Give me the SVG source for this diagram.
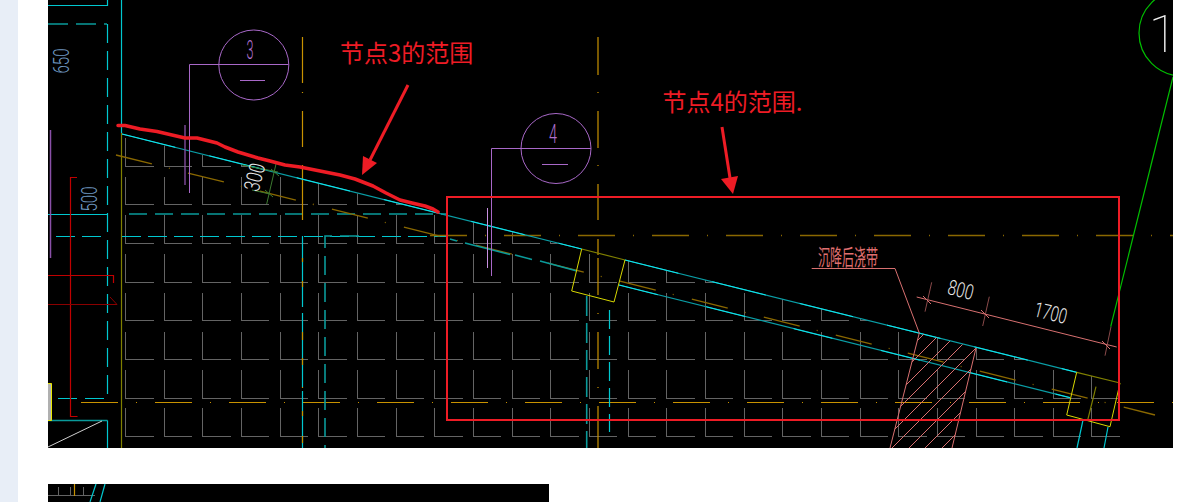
<svg xmlns="http://www.w3.org/2000/svg" width="1187" height="502" viewBox="0 0 1187 502">
<style>
.g{stroke:#646464;fill:none;stroke-width:1;shape-rendering:crispEdges}
.cy{stroke:#00c8d0;fill:none;stroke-width:1.200}
.te{stroke:#0a9a9a;fill:none;stroke-width:1.6}
.or{stroke:#c89200;fill:none;stroke-width:1.200}
.od{stroke:#8a6800;fill:none;stroke-width:1.300}
.pu{stroke:#a868c8;fill:none;stroke-width:1}
.pl{stroke:#c890e0;fill:none;stroke-width:1}
.ye{stroke:#d8d800;fill:none;stroke-width:1}
.ol{stroke:#808000;fill:none;stroke-width:1.200}
.rd{stroke:#c00000;fill:none;stroke-width:1.200}
.pk{stroke:#d87070;fill:none;stroke-width:1}
.pd{stroke:#8a4a4a;fill:none;stroke-width:1}
.gr{stroke:#00c000;fill:none;stroke-width:1.200}
.ann{stroke:#ee1c25;fill:none}
.lbl{fill:#ee1c25;font-family:"Noto Sans CJK SC","Noto Sans",sans-serif;font-size:24px}
.num{font-family:Roboto,"Liberation Sans",sans-serif;font-weight:300;text-anchor:middle}
</style>
<defs>
<path id="row" d="M125.5 0v28h28m10.66-28v28h28m10.66-28v28h28m10.66-28v28h28m10.66-28v28h28m10.66-28v28h28m10.66-28v28h28m10.66-28v28h28m10.66-28v28h28m10.66-28v28h28m10.66-28v28h28m10.66-28v28h28m10.66-28v28h28m10.66-28v28h28m10.66-28v28h28m10.66-28v28h28m10.66-28v28h28m10.66-28v28h28m10.66-28v28h28m10.66-28v28h28m10.66-28v28h28m10.66-28v28h28m10.66-28v28h28m10.66-28v28h28m10.66-28v28h28m10.66-28v28h28"/>
<clipPath id="under"><polygon points="122,135 1120,383 1173,396 1173,448 122,448"/></clipPath>
<clipPath id="band"><polygon points="919.3,333 976,348 952,448 890,448"/></clipPath>
<clipPath id="sheet"><rect x="48" y="0" width="1125" height="448"/></clipPath>
</defs>

<rect width="1187" height="502" fill="#fff"/>
<rect id="side" width="18" height="502" fill="#e8eef7"/>
<rect id="sheet-main" x="48" width="1125" height="448" fill="#000"/>
<rect id="sheet-next" x="48" y="484" width="501" height="18" fill="#000"/>

<g id="grid" class="g" clip-path="url(#under)">
<use href="#row" y="138"/><use href="#row" y="176.700"/><use href="#row" y="215"/><use href="#row" y="254"/><use href="#row" y="292.700"/><use href="#row" y="331.700"/><use href="#row" y="370"/><use href="#row" y="408"/>
</g>

<g id="left-frame">
<path class="cy" d="M48 5.500H107.500V0"/>
<path class="te" d="M48 24H107" stroke-dasharray="20 8"/>
<path class="cy" d="M107.500 24V398.500H48" stroke-dasharray="19 8"/>
<path class="cy" d="M48 214.500H107.500"/>
<path class="te" d="M129 214H446" stroke-dasharray="18 8"/>
<path class="cy" d="M56 236.500H107M122 236.500H446" stroke-dasharray="19 7"/>
<path class="te" d="M48 420.500H107.500"/>
<path class="cy" d="M107.500 420.500V448"/>
<path d="M48 447L102 421" stroke="#d0d0d0" fill="none"/>
<path class="cy" d="M121.500 0V133"/>
<path class="ol" d="M121.500 133V448"/>
<path class="rd" d="M77 177.500H70.500V416.500H77.500"/>
<path class="rd" d="M48 275.500H113.500V283"/>
<path d="M48 304.500H117L110 297" stroke="#8a0000" fill="none"/>
<path d="M50.500 130V258" stroke="#8a50a8" stroke-width="1.500" fill="none"/>
<path d="M48 383.500H51.500V420.500H48" stroke="#e8e800" fill="#b0b0b0"/>
<text class="num" transform="translate(68.500 61) rotate(-90)" font-size="22" textLength="25" lengthAdjust="spacingAndGlyphs" fill="#6f98c0">650</text>
<text class="num" transform="translate(97 199) rotate(-90)" font-size="22" textLength="25" lengthAdjust="spacingAndGlyphs" fill="#6f98c0">500</text>
</g>

<g id="axes">
<path class="od" d="M430 235.500H1173" stroke-dasharray="37 18 1 18"/>
<path class="or" d="M81 402.500H1173" stroke-dasharray="37 18 1 18"/>
<path class="or" d="M302.500 37V83M302.500 92v1M302.500 111V147M302.500 165V220"/>
<path class="cy" d="M302.500 236V307M302.500 313V387M302.500 391V448"/>
<path class="or" d="M302.500 258v4M302.500 281v6M302.500 332v8M302.500 358v7M302.500 387v1M302.500 411v5M302.500 436v7"/>
<path class="te" d="M359 236H325V448" stroke-dasharray="19 8"/>
<path class="or" d="M598 37V75M598 92v1M598 111V148M598 165v1M598 184V220M598 239V255M598 275v1M598 258V295M598 313v1M598 332V369M598 387v1M598 406V448"/>
<path class="te" d="M586.700 296V448" stroke-dasharray="20 7"/>
<path class="cy" d="M609.500 310V432" stroke-dasharray="19 7"/>
<path class="od" d="M116 155L1155 415" stroke-dasharray="37 17.500 1 18.700"/>
</g>

<g id="slope">
<path d="M122 134L581.700 249M625 260L1076.700 372.300" stroke="#0a9ea6" stroke-width="1.200" fill="none"/>
<path d="M122 134L581.700 249M625 260L1076.700 372.300" stroke="#10e8f0" stroke-width="1" fill="none" stroke-dasharray="55 35"/>
<path class="te" d="M450 239L457 241M465 243L510 254.500M515 255L532 259.500M540 261L577 271" stroke-width="1.200"/>
<path d="M619 285L1070 397.700" stroke="#0a9ea6" stroke-width="1.200" fill="none"/>
<path d="M619 285L1070 397.700" stroke="#10e8f0" fill="none" stroke-dasharray="40 50"/>
</g>

<g id="joint-a">
<path class="ol" d="M581.700 249L625 260"/>
<path class="ye" d="M625 260L614 302L571.700 291L581.700 249"/>
</g>
<g id="joint-b">
<path class="ol" d="M1076.700 372.300L1120 383"/>
<path class="ye" d="M1120 383L1110 426.700L1066.700 415L1076.700 372.300"/>
<path class="ol" d="M1096 386.700L1087.700 420"/>
<path class="cy" d="M1083 420L1077 448M1108 427L1104 448"/>
</g>

<g id="callout-3">
<circle class="pu" cx="253.800" cy="65" r="35"/>
<path class="pu" d="M189.500 64.500H288.500M189.500 64.500V193M240 80.500H265"/>
<path d="M185 125V185" stroke="#8a50a8" stroke-width="1.300" fill="none"/>
<text class="num" x="250" y="59" font-size="26" textLength="7" lengthAdjust="spacingAndGlyphs" fill="#b070d0">3</text>
</g>
<g id="callout-4">
<circle class="pu" cx="556" cy="148.500" r="35"/>
<path class="pu" d="M491.500 148.500H591M491.500 148.500V276M542 164.500H568"/>
<path class="pl" d="M487.500 208V268"/>
<text class="num" x="553" y="143" font-size="26" textLength="8" lengthAdjust="spacingAndGlyphs" fill="#b070d0">4</text>
</g>

<g id="dim-300">
<path d="M242 165L278 172M252 190L270 194M276 164L266.700 204M271 169L279 176M265 190L273 197" stroke="#3c7a30" fill="none"/>
<text class="num" transform="translate(262 179) rotate(-76)" font-size="22" textLength="28" lengthAdjust="spacingAndGlyphs" fill="#e8e8e8">300</text>
</g>

<g id="post-cast-strip">
<path class="pk" d="M919.300 333L890 448M976 348L952 448"/>
<g clip-path="url(#band)">
<path class="pk" d="M938 320L798 460M954 320L814 460M971 320L831 460M987 320L847 460M1004 320L864 460M1020 320L880 460M1037 320L897 460M1053 320L913 460M1070 320L930 460"/>
</g>
<path class="pk" d="M811.700 268.500H895L919.300 333"/>
<text x="818" y="265" font-size="22" textLength="60" lengthAdjust="spacingAndGlyphs" fill="#e07070" font-family="'Noto Sans CJK SC',sans-serif">沉降后浇带</text>
</g>

<g id="dims">
<path class="pk" d="M916.700 297L1116.700 347"/>
<path class="pd" d="M931.700 282.300L925 311.700M989.300 296.700L982.700 326M1111 326.700L1105 355.700"/>
<path class="pk" d="M923 296L931 304M981 310L989 318M1102 341L1110 349"/>
<text class="num" transform="translate(959 297) rotate(14)" font-size="21" textLength="26" lengthAdjust="spacingAndGlyphs" fill="#e8e8e8">800</text>
<text class="num" transform="translate(1049 320) rotate(14)" font-size="21" textLength="33" lengthAdjust="spacingAndGlyphs" fill="#e8e8e8">1700</text>
</g>

<g id="callout-1" clip-path="url(#sheet)">
<circle class="gr" cx="1182" cy="33" r="43"/>
<path class="gr" d="M1173 77L1110.700 326.700"/>
<text class="num" x="1163" y="52" font-size="52" fill="#f0f0f0" style="font-weight:100">1</text>
</g>

<g id="sheet-next-content">
<path class="g" d="M48 495.500H95M58.500 487V495M70.500 487V495M83.500 487V495"/>
<path class="or" d="M74.500 484V496"/>
<path class="cy" d="M105 484L100 502M96 484L90 502"/>
</g>

<g id="annotations">
<path class="ann" stroke-width="3.500" stroke-linecap="round" stroke-linejoin="round" d="M118 125.500L125 125.500L140 129L157 131.500L172 135L185 138L197 138L217 143L225 147L238 152L258 158L270 161L285 165L300 167L320 171L340 175L355 179L373 186L386 193L400 200L412 203L425 206L433 209L438 212"/>
<rect class="ann" stroke-width="2" x="447" y="197" width="672" height="223"/>
<path class="ann" stroke-width="3" d="M408 85L370 160"/>
<polygon points="362,175 363,156 377,163" fill="#ee1c25"/>
<path class="ann" stroke-width="3" d="M722 127L730 178"/>
<polygon points="733,194 721,179 738,176" fill="#ee1c25"/>
<text class="lbl" x="340" y="62">节点3的范围</text>
<text class="lbl" x="662.500" y="111">节点4的范围.</text>
</g>
</svg>
